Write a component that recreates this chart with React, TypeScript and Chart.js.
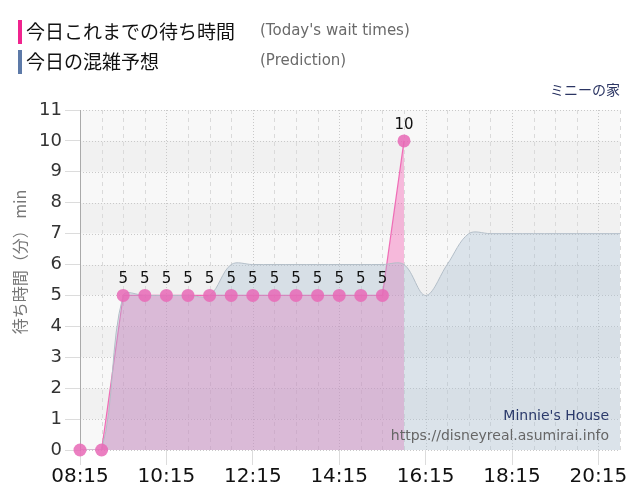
import { useEffect, useRef } from "react";
import { Chart, registerables } from "chart.js";

Chart.register(...registerables);

// 30-minute slots, 08:15 .. 20:45
const times = [
  "08:15", "08:45", "09:15", "09:45", "10:15", "10:45", "11:15", "11:45",
  "12:15", "12:45", "13:15", "13:45", "14:15", "14:45", "15:15", "15:45",
  "16:15", "16:45", "17:15", "17:45", "18:15", "18:45", "19:15", "19:45",
  "20:15", "20:45",
];

// today's wait times (min) — recorded up to 15:45
const waitTimes: (number | null)[] = [
  0, 0, 5, 5, 5, 5, 5, 5, 5, 5, 5, 5, 5, 5, 5, 10,
  null, null, null, null, null, null, null, null, null, null,
];

// forecast for today (min)
const prediction = [
  0, 0, 5, 5, 5, 5, 5, 6, 6, 6, 6, 6, 6, 6, 6, 6,
  5, 6, 7, 7, 7, 7, 7, 7, 7, 7,
];

const yMax = 11;
const labelEvery = 4; // show a time label every 2 hours

const FONT = "DejaVu Sans";
const JP = "'Noto Sans CJK JP'";

// background bands + custom grid lines
const gridBackground = {
  id: "gridBackground",
  beforeDraw(chart: any) {
    const { ctx, chartArea, scales } = chart;
    const { left, right, top, bottom } = chartArea;
    const x = scales.x;
    const y = scales.y;
    ctx.save();
    for (let v = 0; v < yMax; v++) {
      const y0 = y.getPixelForValue(v);
      const y1 = y.getPixelForValue(v + 1);
      ctx.fillStyle = v % 2 === 0 ? "#f8f8f8" : "#f1f1f1";
      ctx.fillRect(left, y1, right - left, y0 - y1);
    }
    ctx.lineWidth = 1;
    // horizontal dotted lines
    ctx.strokeStyle = "#c9c9c9";
    ctx.setLineDash([1, 2]);
    for (let v = 0; v <= yMax; v++) {
      const py = Math.round(y.getPixelForValue(v)) + 0.5;
      ctx.beginPath();
      ctx.moveTo(left, py);
      ctx.lineTo(right, py);
      ctx.stroke();
    }
    // vertical lines
    times.forEach((_, i) => {
      const px = Math.round(x.getPixelForValue(i)) + 0.5;
      if (i % labelEvery === 0) {
        ctx.strokeStyle = "#c9c9c9";
        ctx.setLineDash([1, 2]);
      } else {
        ctx.strokeStyle = "#dadada";
        ctx.setLineDash([4, 4]);
      }
      ctx.beginPath();
      ctx.moveTo(px, top);
      ctx.lineTo(px, bottom);
      ctx.stroke();
    });
    ctx.restore();
  },
};

// value labels above the wait-time points
const pointLabels = {
  id: "pointLabels",
  afterDatasetsDraw(chart: any) {
    const { ctx } = chart;
    const meta = chart.getDatasetMeta(2);
    ctx.save();
    ctx.font = `15px ${FONT}`;
    ctx.fillStyle = "#111";
    ctx.textAlign = "center";
    ctx.textBaseline = "alphabetic";
    meta.data.forEach((pt: any, i: number) => {
      const v = waitTimes[i];
      if (v == null || v <= 0) return;
      ctx.fillText(String(v), pt.x, pt.y - 12);
    });
    ctx.restore();
  },
};

// header legend, attraction name, axis title, watermark
const decorations = {
  id: "decorations",
  afterDraw(chart: any) {
    const { ctx } = chart;
    ctx.save();
    ctx.textBaseline = "middle";

    // legend rows
    ctx.fillStyle = "#f0248e";
    ctx.fillRect(18, 20, 4, 24);
    ctx.fillStyle = "#5d7aa8";
    ctx.fillRect(18, 50, 4, 24);

    ctx.textAlign = "left";
    ctx.fillStyle = "#111";
    ctx.font = `19px ${JP}`;
    ctx.fillText("今日これまでの待ち時間", 26, 32);
    ctx.fillText("今日の混雑予想", 26, 62);
    ctx.fillStyle = "#6a6a6a";
    ctx.font = `15px ${FONT}`;
    ctx.fillText("(Today's wait times)", 260, 31);
    ctx.fillText("(Prediction)", 260, 61);

    // attraction name
    ctx.textAlign = "right";
    ctx.fillStyle = "#2b3563";
    ctx.font = `14px ${JP}`;
    ctx.fillText("ミニーの家", 620, 90);

    // watermark
    ctx.font = `14px ${FONT}`;
    ctx.fillStyle = "#2b3a6b";
    ctx.fillText("Minnie's House", 609, 416);
    ctx.fillStyle = "#666";
    ctx.fillText("https://disneyreal.asumirai.info", 609, 436);

    // y axis title
    ctx.translate(20, 262);
    ctx.rotate(-Math.PI / 2);
    ctx.textAlign = "center";
    ctx.fillStyle = "#777";
    ctx.font = `16px ${JP}`;
    ctx.fillText("待ち時間（分） min", 0, 0);
    ctx.restore();
  },
};

export default function App() {
  const chartRef = useRef<HTMLCanvasElement | null>(null);

  useEffect(() => {
    if (!chartRef.current) return;
    Chart.defaults.font.family = FONT;
    const myChart = new Chart(chartRef.current, {
      type: "line",
      data: {
        labels: times,
        datasets: [
          {
            // wait-time area and line (under the forecast area)
            label: "今日これまでの待ち時間",
            data: waitTimes,
            borderColor: "rgba(238,96,176,0.9)",
            borderWidth: 1.2,
            backgroundColor: "rgba(245,75,170,0.36)",
            fill: "origin",
            tension: 0,
            pointRadius: 0,
            order: 2,
          },
          {
            label: "今日の混雑予想",
            data: prediction,
            borderColor: "#b3bec8",
            borderWidth: 1,
            backgroundColor: "rgba(165,190,210,0.35)",
            fill: "origin",
            tension: 0.35,
            pointRadius: 0,
            order: 1,
          },
          {
            // wait-time markers on top
            label: "points",
            data: waitTimes,
            showLine: false,
            fill: false,
            pointRadius: 6.5,
            pointBorderWidth: 0,
            pointBackgroundColor: "rgba(232,104,182,0.85)",
            clip: false as any,
            order: 0,
          },
        ],
      },
      options: {
        animation: false,
        responsive: false,
        layout: { padding: { top: 110, left: 0, right: 20, bottom: 0 } },
        plugins: {
          legend: { display: false },
          tooltip: { enabled: false },
        },
        scales: {
          x: {
            type: "category",
            offset: false,
            border: { display: false },
            grid: {
              drawOnChartArea: false,
              tickLength: 15,
              tickColor: (c: any) => (c.index % labelEvery === 0 ? "#dcdcdc" : "transparent"),
            },
            ticks: {
              autoSkip: false,
              maxRotation: 0,
              padding: 0,
              color: "#111",
              font: { size: 20, family: FONT },
              callback: (_v: any, i: number) => (i % labelEvery === 0 ? times[i] : ""),
            },
            afterFit: (s: any) => {
              s.height = 50;
              s.paddingLeft = 0;
              s.paddingRight = 0;
            },
          },
          y: {
            min: 0,
            max: yMax,
            border: { display: true, color: "#aaa" },
            grid: {
              drawOnChartArea: false,
              tickLength: 15,
              tickColor: "#dcdcdc",
            },
            ticks: {
              stepSize: 1,
              padding: 3,
              color: "#333",
              font: { size: 18, family: FONT },
            },
            afterFit: (s: any) => {
              s.width = 80;
              s.paddingTop = 0;
              s.paddingBottom = 0;
            },
          },
        },
      },
      plugins: [gridBackground, pointLabels, decorations],
    });
    return () => {
      myChart.destroy();
    };
  }, []);

  return (
    <div style={{ position: "fixed", left: 0, top: 0, width: 640, height: 500, background: "#fff" }}>
      <canvas ref={chartRef} width={640} height={500} />
    </div>
  );
}
